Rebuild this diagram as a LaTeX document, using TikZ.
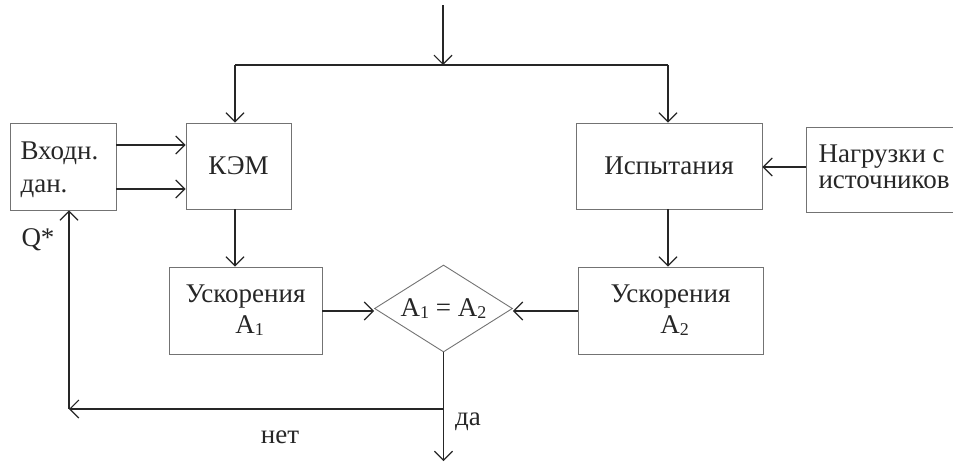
\documentclass[tikz,border=0pt]{standalone}
\usepackage{fontspec}
\setmainfont{Liberation Serif}
\usetikzlibrary{arrows.meta,shapes.geometric,calc}
\begin{document}
\begin{tikzpicture}[x=1pt,y=-1pt,
  every node/.style={font=\fontsize{27}{31}\selectfont, text=black!85},
  box/.style={draw=black!55, line width=0.9pt, inner sep=0pt},
  ln/.style={draw=black!85, line width=1.2pt},
  arr/.style={ln, -{Straight Barb[length=9pt,width=18pt]}},
  dec/.style={diamond, draw=black!55, line width=0.9pt, inner sep=0pt, aspect=1.59, minimum width=138pt, minimum height=87pt}]
\useasboundingbox (0,0) rectangle (953,463);
\node[box, minimum width=106pt, minimum height=87pt] (vx) at (63,166.5) {};
\node[anchor=west, align=left, font=\fontsize{27}{33}\selectfont] (vxt) at (17,170) {Входн.\\дан.};
\node[box, minimum width=105pt, minimum height=86pt] (kem) at (238.5,166) {КЭМ};
\node[box, minimum width=186pt, minimum height=86pt] (isp) at (669,166) {Испытания};
\node[box, minimum width=200pt, minimum height=85pt] (nagr) at (906,169.5) {};
\node[anchor=west, align=left, font=\fontsize{27}{26}\selectfont] (nagrt) at (815,167) {Нагрузки с\\источников};
\node[box, minimum width=153pt, minimum height=87pt, align=center] (a1) at (245.5,310.5) {Ускорения\\\hspace*{8pt}A{\fontsize{18}{18}\selectfont\raisebox{-2pt}{1}}};
\node[box, minimum width=185pt, minimum height=87pt, align=center] (a2) at (670.5,310.5) {Ускорения\\\hspace*{8pt}A{\fontsize{18}{18}\selectfont\raisebox{-2pt}{2}}};
\node[dec] (dia) at (443.5,308.5) {A{\fontsize{18}{18}\selectfont\raisebox{-2pt}{1}} = A{\fontsize{18}{18}\selectfont\raisebox{-2pt}{2}}};
\coordinate (t0) at (443,5);
\coordinate (sp) at (443,65);
\coordinate (cl) at (235,65);
\coordinate (cr) at (668,65);
\coordinate (j) at (443.5,409);
\coordinate (q) at (69,409);
\coordinate (bot) at (443.5,461);
\draw[arr] (t0) -- (sp);
\draw[ln] (cl) -- (cr);
\draw[arr] (cl) -- (cl |- kem.north);
\draw[arr] (cr) -- (cr |- isp.north);
\draw[arr] ([yshift=21.5pt]vx.east) -- ([yshift=21.5pt]vx.east -| kem.west);
\draw[arr] ([yshift=-22.5pt]vx.east) -- ([yshift=-22.5pt]vx.east -| kem.west);
\draw[arr] (nagr.west |- 0,167) -- (isp.east |- 0,167);
\draw[arr] (kem.south -| cl) -- (cl |- a1.north);
\draw[arr] (isp.south -| cr) -- (cr |- a2.north);
\draw[arr] (a1.east |- 0,311) -- (dia.west |- 0,311);
\draw[arr] (a2.west |- 0,311) -- (dia.east |- 0,311);
\draw[ln] (dia.south) -- (j);
\draw[arr] (j) -- (q);
\draw[arr] (q) -- (q |- vx.south);
\draw[arr] (j) -- (bot);
\node (da) at (468,422) {да};
\node (net) at (280,437) {нет};
\node (qs) at (38,240) {Q*};
\end{tikzpicture}
\end{document}
